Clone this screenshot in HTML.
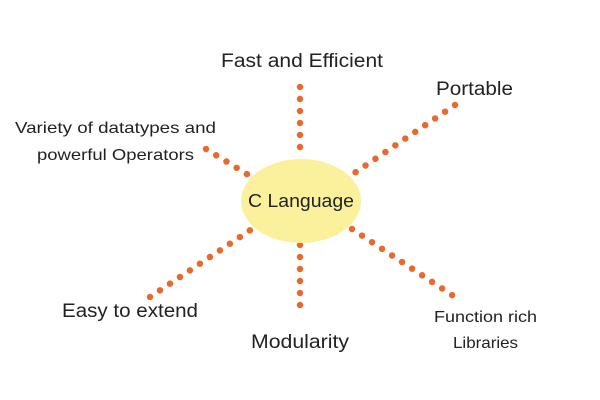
<!DOCTYPE html>
<html><head><style>body{margin:0;background:#fff}svg{display:block}</style></head><body>
<svg width="600" height="400" viewBox="0 0 600 400" xmlns="http://www.w3.org/2000/svg">
<rect width="600" height="400" fill="#fff"/>
<g stroke="#e8692e" stroke-width="6.5" stroke-linecap="round" stroke-dasharray="0 12" fill="none">
<line x1="300" y1="87" x2="300" y2="159"/>
<line x1="300" y1="245" x2="300" y2="317"/>
<line x1="455" y1="105" x2="350" y2="176"/>
<line x1="206" y1="149" x2="250" y2="176"/>
<line x1="150" y1="297" x2="252" y2="229"/>
<line x1="352" y1="229" x2="455" y2="297"/>
</g>
<ellipse cx="301" cy="201" rx="60" ry="42" fill="#fbf09c"/>
<g font-family="Liberation Sans, sans-serif" fill="#222">
<text x="248" y="207" font-size="18" textLength="106" lengthAdjust="spacingAndGlyphs">C Language</text>
<text x="221" y="67" font-size="19" textLength="162" lengthAdjust="spacingAndGlyphs">Fast and Efficient</text>
<text x="436" y="95" font-size="19" textLength="77" lengthAdjust="spacingAndGlyphs">Portable</text>
<text x="15" y="133" font-size="16" textLength="201" lengthAdjust="spacingAndGlyphs">Variety of datatypes and</text>
<text x="37" y="160" font-size="16" textLength="157" lengthAdjust="spacingAndGlyphs">powerful Operators</text>
<text x="62" y="317" font-size="19" textLength="136" lengthAdjust="spacingAndGlyphs">Easy to extend</text>
<text x="251" y="348" font-size="19" textLength="98" lengthAdjust="spacingAndGlyphs">Modularity</text>
<text x="434" y="322" font-size="16" textLength="103" lengthAdjust="spacingAndGlyphs">Function rich</text>
<text x="453" y="348" font-size="16" textLength="65" lengthAdjust="spacingAndGlyphs">Libraries</text>
</g>
</svg>
</body></html>
